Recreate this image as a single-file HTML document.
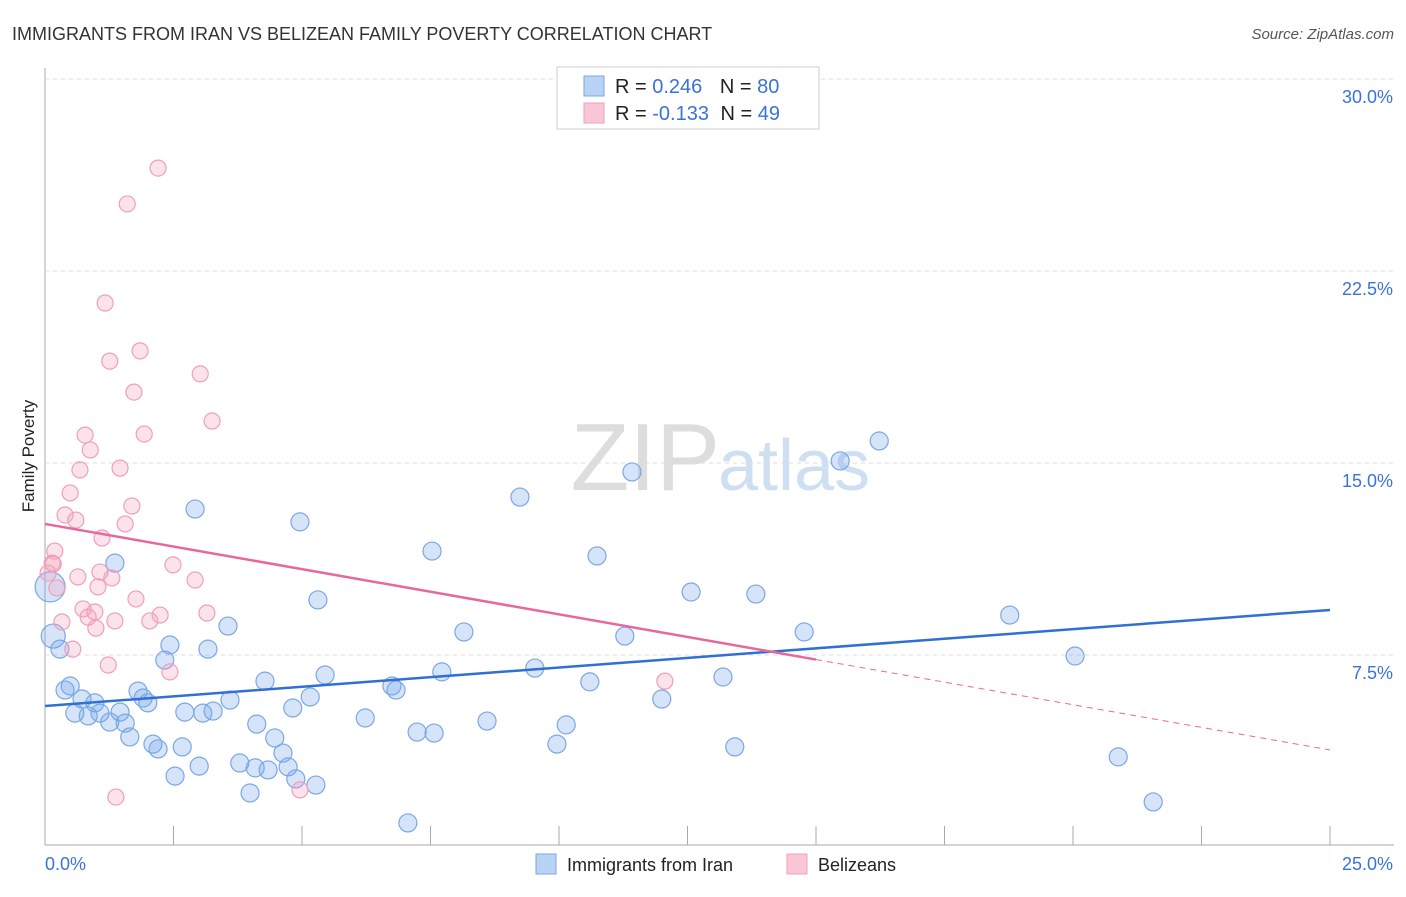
<!DOCTYPE html>
<html><head><meta charset="utf-8"><style>
body{margin:0;background:#fff;font-family:"Liberation Sans",sans-serif}
svg text{font-family:"Liberation Sans",sans-serif}
</style></head><body>
<svg id="c" width="1406" height="892">
<text x="12" y="40" font-size="18" fill="#333">IMMIGRANTS FROM IRAN VS BELIZEAN FAMILY POVERTY CORRELATION CHART</text>
<text x="1394" y="39" font-size="15" fill="#555" font-style="italic" text-anchor="end">Source: ZipAtlas.com</text>
<text x="720" y="490" font-size="96" fill="#ddd" text-anchor="end" font-family="Liberation Serif">ZIP</text>
<text x="718" y="490" font-size="72" fill="#cfdff2">atlas</text>
<text transform="translate(34,456) rotate(-90)" font-size="17" fill="#222" text-anchor="middle">Family Poverty</text>
<g id="grid"></g><g id="marks"></g>
<g>
<rect x="557" y="67" width="262" height="62" fill="#fff" stroke="#ccc"/>
<rect x="584" y="76" width="20" height="20" fill="#b9d3f5" stroke="#7aa7e6"/>
<rect x="584" y="103" width="20" height="20" fill="#f9c6d6" stroke="#eea0b8"/>
<text x="615" y="93" font-size="20" fill="#222">R = <tspan fill="#3a73d6">0.246</tspan>  <tspan dx="12">N = </tspan><tspan fill="#3a73d6">80</tspan></text>
<text x="615" y="120" font-size="20" fill="#222">R = <tspan fill="#3a73d6">-0.133</tspan>  <tspan dx="6">N = </tspan><tspan fill="#3a73d6">49</tspan></text>
</g>
<g>
<rect x="536" y="854" width="20" height="20" fill="#b9d3f5" stroke="#7aa7e6"/>
<text x="567" y="871" font-size="18" fill="#222">Immigrants from Iran</text>
<rect x="787" y="854" width="20" height="20" fill="#f9c6d6" stroke="#eea0b8"/>
<text x="818" y="871" font-size="18" fill="#222">Belizeans</text>
</g>
</svg>
<script>
const blueX=[.10,.16,.29,.39,.49,.58,.72,.84,.97,1.07,1.26,1.36,1.46,1.56,1.65,1.81,1.91,2.00,2.10,2.20,2.33,2.43,2.53,2.67,2.72,2.92,3.00,3.07,3.17,3.27,3.56,3.60,3.79,3.99,4.09,4.12,4.28,4.34,4.47,4.63,4.73,4.82,4.88,4.96,5.16,5.27,5.31,5.45,6.23,6.75,6.83,7.06,7.24,7.53,7.57,7.72,8.15,8.60,9.24,9.53,9.96,10.14,10.60,10.74,11.28,11.42,12.00,12.57,13.19,13.42,13.83,14.77,15.47,16.23,18.77,20.04,20.88,21.56];
const blueY=[10.16,8.24,7.73,6.13,6.29,5.23,5.78,5.12,5.63,5.23,4.88,11.09,5.27,4.84,4.30,6.09,5.82,5.63,4.02,3.83,7.30,7.89,2.77,3.91,5.27,13.20,3.16,5.23,7.73,5.31,8.63,5.74,3.28,2.11,3.09,4.80,6.48,3.01,4.26,3.67,3.13,5.43,2.66,12.70,5.86,2.42,9.65,6.72,5.04,6.29,6.13,0.94,4.49,11.56,4.45,6.84,8.40,4.92,13.67,6.99,4.02,4.77,6.45,11.37,8.24,14.65,5.78,9.96,6.64,3.91,9.88,8.40,15.08,15.86,9.06,7.46,3.52,1.76];
const pinkX=[.06,.14,.19,.23,.33,.39,.49,.54,.60,.64,.68,.74,.78,.84,.88,.97,.99,1.03,1.07,1.11,1.17,1.23,1.26,1.30,1.36,1.38,1.46,1.56,1.60,1.69,1.73,1.77,1.85,1.93,2.04,2.20,2.24,2.43,2.49,2.92,3.02,3.15,3.25,4.96,12.06,.16];
const pinkY=[10.70,11.09,11.56,10.12,8.79,12.97,13.83,7.73,12.77,10.55,14.73,9.30,16.09,8.98,15.51,9.18,8.55,10.16,10.74,12.07,21.25,7.11,18.98,10.51,8.83,1.95,14.80,12.62,25.12,13.32,17.77,9.69,19.38,16.13,8.83,26.52,9.06,6.84,11.02,10.43,18.48,9.14,16.64,2.23,6.48,11.05];
const yTicks=[7.5,15,22.5,30];
const yTickLabels=["7.5%","15.0%","22.5%","30.0%"];
const xTicks=[0,2.5,5,7.5,10,12.5,15,17.5,20,22.5,25];
const blueTrend=[5.51,9.26];
const pinkTrend=[12.62,3.79];
const pinkSolidEnd=15;
const X=v=>45+v*51.4, Y=v=>847-v*25.6;
const NS="http://www.w3.org/2000/svg";
function mk(tag,at,parent){const e=document.createElementNS(NS,tag);for(const k in at)e.setAttribute(k,at[k]);parent.appendChild(e);return e;}
const g=document.getElementById('grid'), m=document.getElementById('marks');
let e=mk('line',{x1:45,x2:45,y1:68,y2:845,stroke:'#aaa'},g);


e=mk('line',{x1:45,x2:1394,y1:845,y2:845,stroke:'#aaa'},g);


yTicks.forEach((t,i)=>{
 e=mk('line',{x1:45,x2:1394,y1:Y(t),y2:Y(t),stroke:'#ddd','stroke-dasharray':'4,4'},g);
 
 
 e=mk('text',{x:1393,y:Y(t)+24,'font-size':18,fill:'#3a73d6','text-anchor':'end'},g);
 e.textContent=yTickLabels[i];
 
 
});
xTicks.forEach(t=>{
 e=mk('line',{x1:X(t),x2:X(t),y1:826,y2:845,stroke:'#aaa'},g);
 
 
});
e=mk('text',{x:45,y:870,'font-size':18,fill:'#3a73d6'},g);e.textContent='0.0%';


e=mk('text',{x:1393,y:870,'font-size':18,fill:'#3a73d6','text-anchor':'end'},g);e.textContent='25.0%';


blueX.forEach((x,i)=>{
 const r=i==0?15:(i==1?12:9);
 e=mk('circle',{cx:X(x),cy:Y(blueY[i]),r:r,fill:'rgba(120,165,235,0.3)',stroke:'#7aa7e6','stroke-width':1.2},m);
 
 
});
pinkX.forEach((x,i)=>{
 e=mk('circle',{cx:X(x),cy:Y(pinkY[i]),r:8,fill:'rgba(245,160,190,0.3)',stroke:'#eea0b8','stroke-width':1.2},m);
 
 
});
e=mk('line',{x1:X(0),y1:Y(blueTrend[0]),x2:X(25),y2:Y(blueTrend[1]),stroke:'#2f6fd6','stroke-width':2.5},m);


const pAt=x=>pinkTrend[0]+(pinkTrend[1]-pinkTrend[0])*x/25;
e=mk('line',{x1:X(0),y1:Y(pAt(0)),x2:X(pinkSolidEnd),y2:Y(pAt(pinkSolidEnd)),stroke:'#e8689a','stroke-width':2.5},m);


e=mk('line',{x1:X(pinkSolidEnd),y1:Y(pAt(pinkSolidEnd)),x2:X(25),y2:Y(pAt(25)),stroke:'#e8689a','stroke-width':1,'stroke-dasharray':'6,5'},m);


</script>
</body></html>
